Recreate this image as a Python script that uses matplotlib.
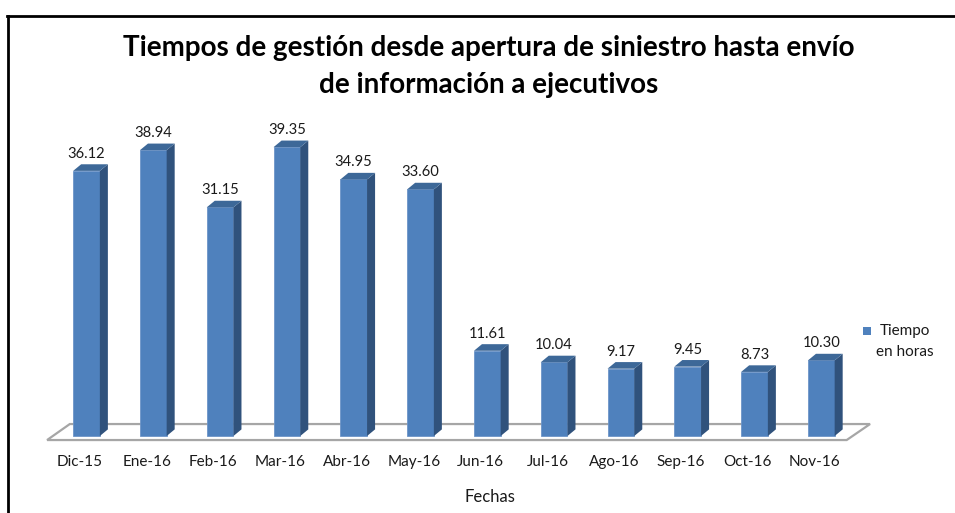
import matplotlib
matplotlib.use("Agg")
import matplotlib.pyplot as plt
from matplotlib.patches import Polygon, Rectangle
from matplotlib.lines import Line2D

categories = ["Dic-15", "Ene-16", "Feb-16", "Mar-16", "Abr-16", "May-16",
              "Jun-16", "Jul-16", "Ago-16", "Sep-16", "Oct-16", "Nov-16"]
values = [36.12, 38.94, 31.15, 39.35, 34.95, 33.60,
          11.61, 10.04, 9.17, 9.45, 8.73, 10.30]
series_name = "Tiempo\nen horas"
title = "Tiempos de gestión desde apertura de siniestro hasta envío\nde información a ejecutivos"
xlabel = "Fechas"

W, H = 955, 513
plt.rcParams['font.family'] = ['Lato', 'DejaVu Sans']
fig = plt.figure(figsize=(W / 100, H / 100), dpi=100)

# pixel mapping: x_px = X0 + SX * i ; y_px(top) = Y0 - SY * v
X0, SX = 86.5, 66.8
Y0, SY = 436.0, 7.34
xlim = (-1.2, 12.0)
ylim = (-3.0, 45.0)
left_px = X0 + SX * xlim[0]
right_px = X0 + SX * xlim[1]
bot_px = Y0 - SY * ylim[0]
top_px = Y0 - SY * ylim[1]
ax = fig.add_axes([left_px / W, (H - bot_px) / H, (right_px - left_px) / W, (bot_px - top_px) / H])
ax.set_xlim(*xlim)
ax.set_ylim(*ylim)
ax.axis('off')

# floor
floor = Polygon([(-0.59, -0.55), (11.38, -0.55), (11.73, 1.63), (-0.25, 1.63)],
                closed=True, facecolor='white', edgecolor='#A6A6A6', lw=1.6, zorder=1)
ax.add_patch(floor)

front_c = '#4F81BD'
side_c = '#30527C'
top_c = '#3D6898'
hw = 0.2
dx, dy = 0.12, 0.9
txt_c = '#1a1a1a'
for i, v in enumerate(values):
    ax.add_patch(Rectangle((i - hw, 0), 2 * hw, v, facecolor=front_c, edgecolor='#6D95C8', lw=0.6, zorder=3))
    ax.add_patch(Polygon([(i + hw, 0), (i + hw + dx, dy), (i + hw + dx, v + dy), (i + hw, v)],
                         closed=True, facecolor=side_c, edgecolor='none', zorder=3))
    ax.add_patch(Polygon([(i - hw, v), (i + hw, v), (i + hw + dx, v + dy), (i - hw + dx, v + dy)],
                         closed=True, facecolor=top_c, edgecolor='none', zorder=3))
    ax.text(i, v + 17 / SY, f"{v:.2f}", ha='center', va='center', fontsize=10.6, color=txt_c, zorder=4)
    ax.text(i - 0.1, (Y0 - 462) / SY, categories[i], ha='center', va='center', fontsize=11,
            color=txt_c, clip_on=False)

fig.text(490 / W, 1 - 497 / H, xlabel, ha='center', va='center', fontsize=12, color=txt_c)

# title
lines = title.split("\n")
fig.text(489 / W, 1 - 48 / H, lines[0], ha='center', va='center', fontsize=20, fontweight='bold', color='black')
fig.text(489 / W, 1 - 85 / H, lines[1], ha='center', va='center', fontsize=20, fontweight='bold', color='black')

# legend
fig.patches.append(Rectangle((863 / W, 1 - 335 / H), 8 / W, 8 / H, transform=fig.transFigure,
                             facecolor=front_c, edgecolor='none'))
leg_lines = series_name.split("\n")
fig.text(880 / W, 1 - 331 / H, leg_lines[0], ha='left', va='center', fontsize=11, color=txt_c)
fig.text(876 / W, 1 - 352 / H, leg_lines[1], ha='left', va='center', fontsize=11, color=txt_c)

# chart border (top and left)
fig.add_artist(Line2D([8 / W, 8 / W], [0, 1 - 16 / H], transform=fig.transFigure, color='black', lw=2))
fig.add_artist(Line2D([7 / W, 1], [1 - 16 / H, 1 - 16 / H], transform=fig.transFigure, color='black', lw=2))

fig.savefig("out.png", dpi=100)
